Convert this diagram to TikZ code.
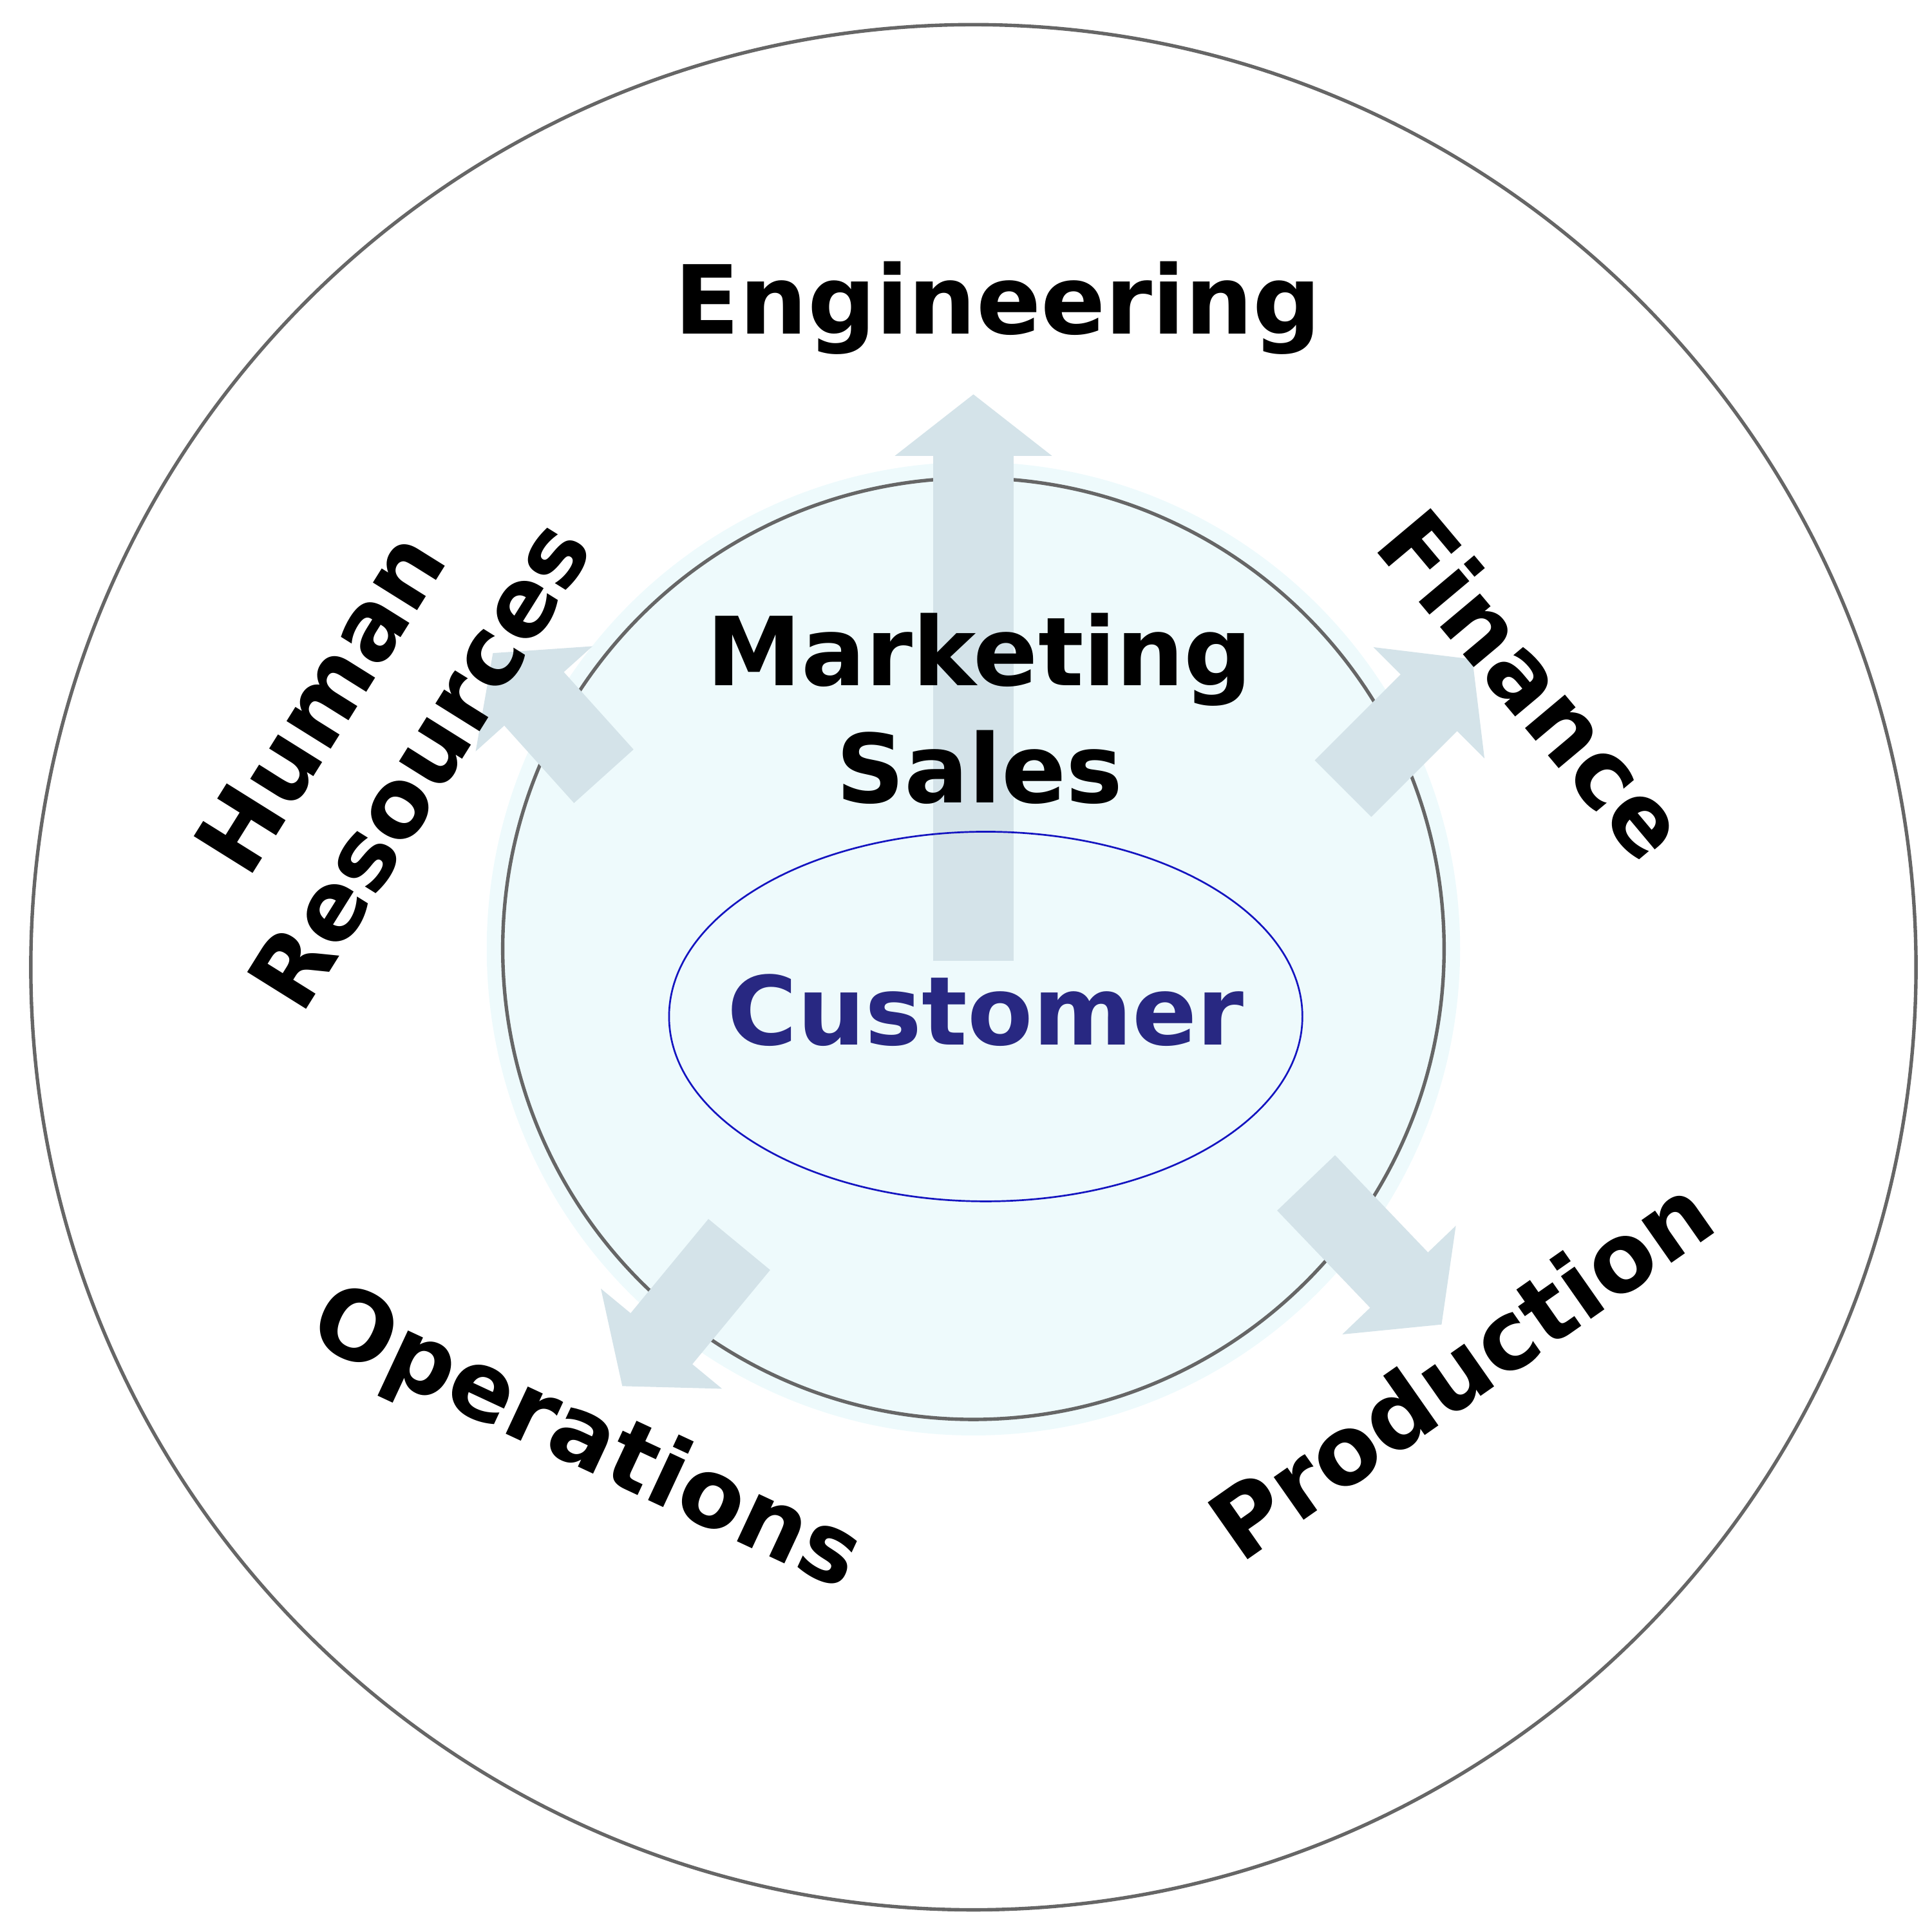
\documentclass[tikz,border=0pt]{standalone}
\usepackage{fontspec}
\setmainfont{DejaVu Sans}
\usetikzlibrary{arrows.meta,shapes.geometric}
\tikzset{
  lbl/.style = {font=\bfseries\fontsize{22}{27}\selectfont, align=center,
                inner sep=0pt},
  flow/.style = {line width=0.65cm, draw=cyan!35!gray!28,
                 -{Triangle[width=1.25cm,length=0.5cm]}}
}
\definecolor{custblue}{RGB}{40,40,130}
\definecolor{core}{RGB}{238,250,252}

\begin{document}
\begin{tikzpicture}
	\useasboundingbox (0,0) rectangle (15.68,-15.68);
	
	% Rings
	\draw[gray!80!black, line width=0.8pt] (7.9,-7.85) circle (7.65);
	\fill[core] (7.9,-7.7) circle (3.95);
	\draw[gray!80!black, line width=0.8pt] (7.9,-7.7) circle (3.82);
	
	% Arrows
	\draw[flow] (7.9,-7.8) -- (7.9,-3.2);
	\draw[flow] (4.9,-6.3) -- (4.0,-5.3);
	\draw[flow] (10.9,-6.4) -- (11.95,-5.35);
	\draw[flow] (10.6,-9.6) -- (11.7,-10.75);
	\draw[flow] (6.0,-10.1) -- (5.05,-11.25);
	
	% Customer
	\node[ellipse, draw=blue!50!custblue, minimum width=5.14cm, minimum height=3.0cm]
	  (cust) at (8.0,-8.25) {};
	\node[lbl, text=custblue] (custtext) at (8.0,-8.2) {Customer};
	
	% Labels
	\node[lbl] (mkt) at (7.95,-5.75) {Marketing\\Sales};
	\node[lbl] (eng) at (8.1,-2.5) {Engineering};
	\node[lbl, rotate=58] (hr) at (3.0,-5.95) {Human\\Resources};
	\node[lbl, rotate=-50] (fin) at (12.45,-5.55) {Finance};
	\node[lbl, rotate=35] (prod) at (11.85,-11.1) {Production};
	\node[lbl, rotate=-25] (ops) at (4.75,-11.7) {Operations};

\end{tikzpicture}
\end{document}
